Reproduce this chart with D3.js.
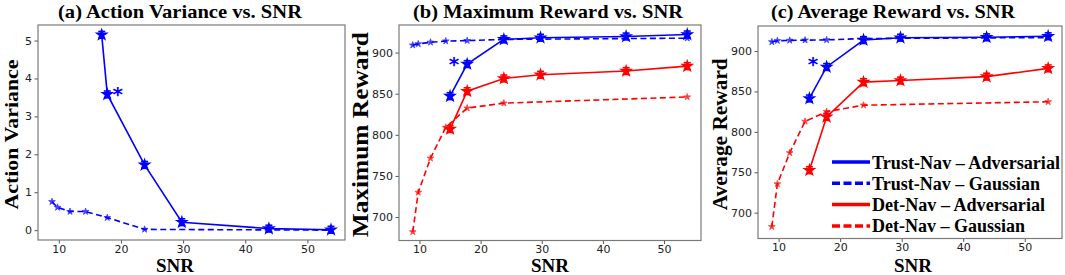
<!DOCTYPE html>
<html>
<head>
<meta charset="utf-8">
<script src="https://cdn.jsdelivr.net/npm/d3@7"></script>
<style>
  body { margin: 0; background: #fff; }
  .tick text { font-family: "DejaVu Sans", sans-serif; font-size: 11px; fill: #222; }
  .tick line { stroke: #555; }
</style>
</head>
<body>
<script>
// SNR positions
var snrGauss = [8.9, 9.8, 11.8, 14.3, 17.8, 23.8, 53.8];
var snrAdvA = [16.9, 17.8, 23.8, 29.8, 43.8, 53.8];
var snrAdv = [15, 17.8, 23.8, 29.8, 43.8, 53.8];

// (a) action variance
var trustAdvVar = [5.15, 3.58, 1.72, 0.21, 0.04, 0.01];
var trustGaussVar = [0.75, 0.6, 0.49, 0.49, 0.33, 0.02, 0.0];

// (b) maximum reward
var trustAdvMax = [847, 886, 916, 918, 919.5, 922];
var trustGaussMax = [909, 910.5, 912.5, 914, 914.5, 916, 917.5];
var detAdvMax = [807, 853, 868.5, 873, 877.5, 883.5];
var detGaussMax = [682, 730, 771.5, 809, 832.5, 838.5, 846];

// (c) average reward
var trustAdvAvg = [841.3, 880.3, 913.6, 916.5, 917, 918.3];
var trustGaussAvg = [911.3, 912.8, 913.2, 913.5, 913.8, 915.5, 916.7];
var detAdvAvg = [752.5, 818.5, 861.5, 863.5, 868.3, 878.6];
var detGaussAvg = [682.6, 735.5, 774, 813, 825, 833, 837.2];

var xTicks = [10, 20, 30, 40, 50];
var varTicks = [0, 1, 2, 3, 4, 5];
var rewardTicks = [700, 750, 800, 850, 900];

var legendLabels = ["Trust-Nav \u2013 Adversarial", "Trust-Nav \u2013 Gaussian",
                    "Det-Nav \u2013 Adversarial", "Det-Nav \u2013 Gaussian"];

var BLUE = "#0000ff", RED = "#ff0000";
var SERIF = "'Liberation Serif', 'Times New Roman', serif";

var svg = d3.select("body").append("svg")
    .attr("width", 1065)
    .attr("height", 275);

function zip(xs, ys) {
    return xs.map(function (x, i) { return {x: x, y: ys[i]}; });
}

var panels = [
    {
        left: 38, right: 345, top: 25, bottom: 240,
        yDomain: [-0.26, 5.41], yTicks: varTicks,
        title: "(a) Action Variance vs. SNR", titleX: 180, titleLen: 244,
        ylabel: "Action Variance", ylabelX: 17.5, ylabelSize: 19, ylabelLen: 150,
        xlabelX: 175,
        star: [19.5, 3.70],
        series: [
            {xs: snrAdvA, ys: trustAdvVar, color: BLUE, dashed: false},
            {xs: snrGauss, ys: trustGaussVar, color: BLUE, dashed: true}
        ]
    },
    {
        left: 399, right: 701, top: 25, bottom: 240.5,
        yDomain: [671.5, 933.5], yTicks: rewardTicks,
        title: "(b) Maximum Reward vs. SNR", titleX: 548, titleLen: 270,
        ylabel: "Maximum Reward", ylabelX: 368, ylabelSize: 24, ylabelLen: 205,
        xlabelX: 550,
        star: [15.65, 890.9],
        series: [
            {xs: snrGauss, ys: detGaussMax, color: RED, dashed: true},
            {xs: snrAdv, ys: detAdvMax, color: RED, dashed: false},
            {xs: snrGauss, ys: trustGaussMax, color: BLUE, dashed: true},
            {xs: snrAdv, ys: trustAdvMax, color: BLUE, dashed: false}
        ]
    },
    {
        left: 758, right: 1062, top: 26, bottom: 238.5,
        yDomain: [668, 931], yTicks: rewardTicks,
        title: "(c) Average Reward vs. SNR", titleX: 893, titleLen: 244,
        ylabel: "Average Reward", ylabelX: 727, ylabelSize: 20, ylabelLen: 152,
        xlabelX: 913,
        star: [15.6, 888.9],
        legend: true,
        series: [
            {xs: snrGauss, ys: detGaussAvg, color: RED, dashed: true},
            {xs: snrAdv, ys: detAdvAvg, color: RED, dashed: false},
            {xs: snrGauss, ys: trustGaussAvg, color: BLUE, dashed: true},
            {xs: snrAdv, ys: trustAdvAvg, color: BLUE, dashed: false}
        ]
    }
];

panels.forEach(function (p) {
    var x = d3.scaleLinear().domain([6.65, 56.05]).range([p.left, p.right]);
    var y = d3.scaleLinear().domain(p.yDomain).range([p.bottom, p.top]);

    var g = svg.append("g");

    g.append("g")
        .attr("transform", "translate(0," + p.bottom + ")")
        .call(d3.axisBottom(x).tickValues(xTicks).tickSize(3.5).tickPadding(1.5))
        .call(function (a) { a.select(".domain").remove(); });

    g.append("g")
        .attr("transform", "translate(" + p.left + ",0)")
        .call(d3.axisLeft(y).tickValues(p.yTicks).tickFormat(d3.format("d"))
              .tickSize(3.5).tickPadding(2.5))
        .call(function (a) { a.select(".domain").remove(); });

    // lines
    var line = d3.line().x(d => x(d.x)).y(d => y(d.y));
    p.series.forEach(function (s) {
        var data = zip(s.xs, s.ys);
        g.append("path")
            .datum(data)
            .attr("fill", "none")
            .attr("stroke", s.color)
            .attr("stroke-width", 1.6)
            .attr("stroke-dasharray", s.dashed ? "6,3.5" : null)
            .attr("d", line);

        var star = d3.symbol().type(d3.symbolStar).size(s.dashed ? 14 : 30);
        var pts = g.selectAll(null).data(data).enter().append("g")
            .attr("transform", d => "translate(" + x(d.x) + "," + y(d.y) + ")")
            .attr("opacity", s.dashed ? 0.75 : 1);
        pts.append("path")
            .attr("d", star())
            .attr("fill", s.color)
            .attr("stroke", s.color)
            .attr("stroke-width", s.dashed ? 0.8 : 1.4);
        if (!s.dashed) {
            // error bar caps
            [-3.4, 3.4].forEach(function (dy) {
                pts.append("line")
                    .attr("x1", -3.5).attr("x2", 3.5)
                    .attr("y1", dy).attr("y2", dy)
                    .attr("stroke", s.color)
                    .attr("stroke-width", 1.6);
            });
        }
    });

    // frame
    g.append("rect")
        .attr("x", p.left).attr("y", p.top)
        .attr("width", p.right - p.left).attr("height", p.bottom - p.top)
        .attr("fill", "none")
        .attr("stroke", "#7a7a7a")
        .attr("stroke-width", 1.2);

    // significance asterisk
    g.append("text")
        .attr("x", x(p.star[0])).attr("y", y(p.star[1]) + 11)
        .attr("text-anchor", "middle")
        .style("font-family", "'DejaVu Sans', sans-serif")
        .style("font-weight", "bold")
        .style("font-size", "20px")
        .attr("fill", BLUE)
        .text("*");

    // title
    g.append("text")
        .attr("x", p.titleX).attr("y", 18)
        .attr("text-anchor", "middle")
        .attr("textLength", p.titleLen)
        .attr("lengthAdjust", "spacingAndGlyphs")
        .style("font-family", SERIF)
        .style("font-weight", "bold")
        .style("font-size", "19.5px")
        .text(p.title);

    // x label
    g.append("text")
        .attr("x", p.xlabelX).attr("y", 272)
        .attr("text-anchor", "middle")
        .style("font-family", SERIF)
        .style("font-weight", "bold")
        .style("font-size", "19px")
        .text("SNR");

    // y label
    var yc = (p.top + p.bottom) / 2 + 2;
    g.append("text")
        .attr("transform", "translate(" + p.ylabelX + "," + yc + ") rotate(-90)")
        .attr("text-anchor", "middle")
        .attr("textLength", p.ylabelLen)
        .attr("lengthAdjust", "spacingAndGlyphs")
        .style("font-family", SERIF)
        .style("font-weight", "bold")
        .style("font-size", p.ylabelSize + "px")
        .text(p.ylabel);

    if (p.legend) {
        var styles = [
            {color: BLUE, dashed: false, len: 188},
            {color: BLUE, dashed: true, len: 168},
            {color: RED, dashed: false, len: 173},
            {color: RED, dashed: true, len: 153}
        ];
        var lg = g.append("g");
        styles.forEach(function (st, i) {
            var ly = 162 + i * 21.3;
            lg.append("line")
                .attr("x1", 832).attr("x2", 870)
                .attr("y1", ly).attr("y2", ly)
                .attr("stroke", st.color)
                .attr("stroke-width", 3.5)
                .attr("stroke-dasharray", st.dashed ? "8,3.5" : null);
            lg.append("text")
                .attr("x", 872).attr("y", ly + 6.5)
                .attr("textLength", st.len)
                .attr("lengthAdjust", "spacingAndGlyphs")
                .style("font-family", SERIF)
                .style("font-weight", "bold")
                .style("font-size", "18.5px")
                .text(legendLabels[i]);
        });
    }
});
</script>
</body>
</html>
